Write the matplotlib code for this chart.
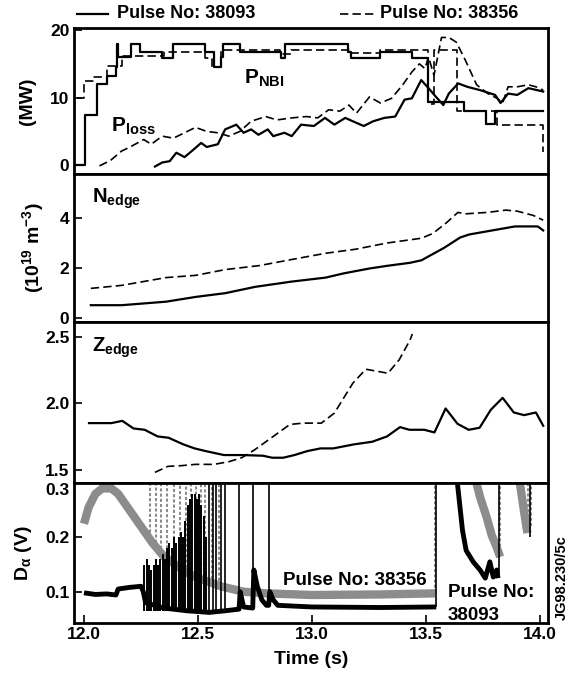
import matplotlib
matplotlib.use("Agg")
import matplotlib.pyplot as plt
from matplotlib.lines import Line2D

FONT = ['Liberation Sans', 'DejaVu Sans']
plt.rcParams['font.family'] = FONT
plt.rcParams['font.weight'] = 'bold'
plt.rcParams['axes.labelweight'] = 'bold'
plt.rcParams['mathtext.fontset'] = 'custom'
plt.rcParams['mathtext.rm'] = 'Liberation Sans:bold'
plt.rcParams['mathtext.it'] = 'Liberation Sans:bold'
plt.rcParams['mathtext.bf'] = 'Liberation Sans:bold'
plt.rcParams['mathtext.default'] = 'bf'
plt.rcParams['axes.unicode_minus'] = True

# ---- P_NBI (stepped) ----
nbi_a_t = [11.954, 12.006, 12.055, 12.10, 12.14, 12.146, 12.150, 12.152, 12.205, 12.246, 12.343,
           12.392, 12.53, 12.57, 12.603, 12.611, 12.684, 12.862, 12.88, 13.16, 13.171, 13.30,
           13.44, 13.508, 13.665, 13.763, 13.803, 14.014]
nbi_a_v = [0, 7.5, 12, 13.2, 14.5, 18, 16, 16, 18, 16.8, 15.8,
           18, 16.8, 14.5, 16, 18, 16.8, 15.8, 18, 16.8, 15.8, 16.8,
           15.8, 9.4, 8, 6.1, 8, 8]
nbi_b_t = [11.97, 12.0, 12.04, 12.10, 12.165, 12.35, 12.53, 12.56, 12.60, 12.86, 12.91,
           13.17, 13.30, 13.51, 13.535, 13.635, 13.81, 14.01, 14.014]
nbi_b_v = [10, 12.5, 13, 14.7, 16.2, 16.8, 15.8, 14.6, 17, 16.5, 17,
           16.6, 17, 9, 17, 8, 6, 6, 2]

# ---- P_loss ----
loss_a_t = [12.311, 12.343, 12.376, 12.405, 12.441, 12.473, 12.514, 12.538, 12.587, 12.619,
            12.668, 12.700, 12.733, 12.765, 12.806, 12.830, 12.879, 12.911, 12.952, 13.008,
            13.057, 13.098, 13.146, 13.179, 13.227, 13.268, 13.317, 13.365, 13.406, 13.438,
            13.479, 13.511, 13.544, 13.576, 13.600, 13.641, 13.681, 13.738, 13.803, 13.827,
            13.860, 13.900, 13.949, 14.014]
loss_a_v = [-0.2, 0.4, 0.6, 1.85, 1.2, 2.1, 3.3, 2.7, 3.1, 5.3,
            6.0, 4.8, 5.3, 4.5, 5.3, 4.3, 4.8, 4.3, 6.0, 5.8,
            7.0, 6.0, 7.0, 6.5, 5.8, 6.5, 7.0, 7.2, 9.7, 9.9,
            12.6, 11.4, 10.1, 8.9, 10.6, 12.1, 11.6, 11.1, 10.4, 9.2,
            10.6, 10.4, 11.4, 10.9]
loss_b_t = [12.068, 12.116, 12.165, 12.197, 12.262, 12.295, 12.343, 12.392, 12.441, 12.489,
            12.538, 12.587, 12.635, 12.684, 12.733, 12.797, 12.846, 12.911, 12.976, 13.025,
            13.073, 13.122, 13.162, 13.195, 13.252, 13.300, 13.349, 13.398, 13.438, 13.471,
            13.495, 13.511, 13.535, 13.568, 13.600, 13.633, 13.673, 13.722, 13.771, 13.811,
            13.836, 13.860, 13.900, 13.949, 13.982, 14.014]
loss_b_v = [-0.1, 0.7, 2.1, 2.6, 3.8, 3.1, 4.3, 4.0, 4.8, 5.6,
            5.0, 4.8, 4.3, 5.0, 6.5, 7.2, 6.7, 7.0, 7.2, 7.0,
            8.2, 8.0, 8.9, 7.7, 10.1, 9.2, 9.9, 11.9, 13.8, 15.0,
            14.3, 16.0, 13.3, 18.9, 18.9, 18.2, 15.5, 11.9, 10.6, 9.9,
            9.2, 11.6, 11.6, 11.9, 11.6, 11.1]

# ---- N_edge ----
ne_a_t = [12.03, 12.165, 12.36, 12.49, 12.62, 12.75, 12.91, 13.06, 13.14, 13.25, 13.33,
          13.43, 13.48, 13.58, 13.65, 13.69, 13.79, 13.89, 13.99, 14.014]
ne_a_v = [0.52, 0.52, 0.66, 0.85, 1.0, 1.25, 1.46, 1.62, 1.79, 1.98, 2.09,
          2.21, 2.31, 2.81, 3.22, 3.34, 3.5, 3.66, 3.66, 3.5]
ne_b_t = [12.03, 12.165, 12.36, 12.49, 12.62, 12.77, 12.91, 13.06, 13.19, 13.33, 13.48,
          13.53, 13.59, 13.64, 13.67, 13.77, 13.85, 13.90, 13.97, 14.014]
ne_b_v = [1.19, 1.31, 1.62, 1.71, 1.94, 2.1, 2.34, 2.59, 2.75, 3.0, 3.19,
          3.38, 3.81, 4.22, 4.16, 4.22, 4.31, 4.27, 4.1, 3.91]

# ---- Z_edge ----
ze_a_t = [12.022, 12.120, 12.168, 12.217, 12.266, 12.323, 12.371, 12.436, 12.485, 12.533,
          12.614, 12.695, 12.785, 12.825, 12.874, 12.923, 12.980, 13.037, 13.093, 13.183,
          13.264, 13.329, 13.386, 13.427, 13.492, 13.537, 13.586, 13.638, 13.687, 13.735,
          13.784, 13.836, 13.885, 13.930, 13.982, 14.014]
ze_a_v = [1.85, 1.85, 1.867, 1.81, 1.80, 1.75, 1.74, 1.69, 1.66, 1.64,
          1.61, 1.61, 1.605, 1.59, 1.59, 1.61, 1.64, 1.66, 1.66, 1.69,
          1.71, 1.75, 1.82, 1.80, 1.80, 1.78, 1.96, 1.845, 1.80, 1.815,
          1.95, 2.04, 1.93, 1.91, 1.93, 1.83]
ze_b_t = [12.311, 12.368, 12.425, 12.489, 12.570, 12.635, 12.692, 12.749, 12.830, 12.903,
          12.960, 13.041, 13.098, 13.179, 13.236, 13.333, 13.382, 13.430, 13.44]
ze_b_v = [1.48, 1.525, 1.53, 1.54, 1.54, 1.56, 1.59, 1.65, 1.75, 1.84,
          1.85, 1.85, 1.925, 2.15, 2.255, 2.225, 2.325, 2.475, 2.52]

# ---- D_alpha, pulse 38356 (grey) ----
da_b_t1 = [12.00, 12.02, 12.05, 12.08, 12.12, 12.15, 12.20, 12.25, 12.30, 12.35, 12.40,
           12.45, 12.50, 12.55, 12.60, 12.65, 12.70, 12.80, 13.00, 13.30, 13.54]
da_b_v1 = [0.225, 0.255, 0.28, 0.29, 0.29, 0.28, 0.25, 0.22, 0.19, 0.165, 0.15,
           0.135, 0.125, 0.118, 0.11, 0.105, 0.10, 0.097, 0.094, 0.095, 0.097]
da_b_t2 = [13.715, 13.737, 13.766, 13.788, 13.81, 13.825]
da_b_v2 = [0.31, 0.274, 0.237, 0.204, 0.182, 0.164]
da_b_t3 = [13.908, 13.927, 13.94, 13.945]
da_b_v3 = [0.31, 0.256, 0.22, 0.208]
elm_b_t = [12.29, 12.316, 12.338, 12.364, 12.395, 12.42, 12.447, 12.469, 12.49, 12.513,
           12.53, 12.56, 12.59, 13.54, 13.826, 13.946, 13.96]
elm_b_lo = [0.19, 0.18, 0.17, 0.16, 0.15, 0.145, 0.135, 0.13, 0.125, 0.12,
            0.12, 0.115, 0.11, 0.097, 0.164, 0.208, 0.22]

# ---- D_alpha, pulse 38093 (black) ----
da_a_t1 = [12.00, 12.05, 12.10, 12.14, 12.15, 12.20, 12.25, 12.26, 12.27, 12.35, 12.45,
           12.55, 12.62, 12.68, 12.685, 12.70, 12.74, 12.745, 12.76, 12.78, 12.80,
           12.81, 12.815, 12.83, 12.85, 13.00, 13.30, 13.545]
da_a_v1 = [0.098, 0.095, 0.096, 0.094, 0.105, 0.108, 0.11, 0.10, 0.08, 0.07, 0.065,
           0.062, 0.065, 0.068, 0.10, 0.072, 0.07, 0.14, 0.11, 0.085, 0.075,
           0.075, 0.10, 0.085, 0.075, 0.072, 0.071, 0.072]
da_a_t2 = [13.635, 13.66, 13.676, 13.707, 13.737, 13.76, 13.78, 13.795, 13.81, 13.816]
da_a_v2 = [0.31, 0.213, 0.176, 0.155, 0.14, 0.125, 0.155, 0.127, 0.14, 0.125]
elm_a_t = [12.265, 12.275, 12.285, 12.295, 12.305, 12.315, 12.325, 12.335, 12.345, 12.355,
           12.365, 12.375, 12.385, 12.395, 12.405, 12.415, 12.425, 12.435, 12.445, 12.455,
           12.465, 12.475, 12.485, 12.495, 12.505, 12.515, 12.525, 12.535]
elm_a_hi = [0.15, 0.16, 0.15, 0.14, 0.15, 0.16, 0.15, 0.16, 0.17, 0.16,
            0.18, 0.19, 0.18, 0.2, 0.19, 0.2, 0.21, 0.2, 0.23, 0.26,
            0.27, 0.28, 0.28, 0.27, 0.28, 0.26, 0.24, 0.2]
elm_a_top = [12.55, 12.565, 12.58, 12.60, 12.62, 12.68, 12.74, 12.81, 13.545, 13.82, 13.955]
elm_a_lo = [0.062, 0.063, 0.064, 0.064, 0.065, 0.068, 0.07, 0.075, 0.072, 0.125, 0.20]

XLIM = (11.954, 14.035)
W, H = 576, 673
fig = plt.figure(figsize=(W / 100, H / 100), dpi=100)

def panel(top, bottom):
    ax = fig.add_axes([73.5 / W, 1 - bottom / H, (548 - 73.5) / W, (bottom - top) / H])
    ax.set_xlim(*XLIM)
    for s in ax.spines.values():
        s.set_linewidth(2.0)
    ax.tick_params(direction='in', length=6, width=1.2, labelsize=12.5, pad=3)
    ax.tick_params(axis='x', which='both', bottom=False, labelbottom=False)
    return ax

dash = dict(color='black', lw=1.2, linestyle=(0, (5, 2.5)))
solid = dict(color='black', lw=1.6)

# top: heating and loss power
ax1 = panel(28, 174)
ax1.step(nbi_a_t, nbi_a_v, where='post', **solid)
ax1.step(nbi_b_t, nbi_b_v, where='post', **dash)
ax1.plot(loss_a_t, loss_a_v, **solid)
ax1.plot(loss_b_t, loss_b_v, **dash)
ax1.set_ylim(-1.3, 20.3)
ax1.set_yticks([0, 10, 20])
ax1.set_ylabel('(MW)', fontsize=14, labelpad=10)
ax1.text(12.70, 12.8, 'P$_{\\mathbf{NBI}}$', fontsize=15, va='center')
ax1.text(12.12, 5.8, 'P$_{\\mathbf{loss}}$', fontsize=15, va='center')

# edge density
ax2 = panel(174, 322)
ax2.plot(ne_a_t, ne_a_v, **solid)
ax2.plot(ne_b_t, ne_b_v, **dash)
ax2.set_ylim(-0.15, 5.75)
ax2.set_yticks([0, 2, 4])
ax2.set_ylabel('(10$^{\\mathbf{19}}$ m$^{\\mathbf{-3}}$)', fontsize=14, labelpad=10)
ax2.text(12.035, 4.75, 'N$_{\\mathbf{edge}}$', fontsize=14.5, va='center')

# edge Z_eff
ax3 = panel(322, 483)
ax3.plot(ze_a_t, ze_a_v, **solid)
ax3.plot(ze_b_t, ze_b_v, **dash)
ax3.set_ylim(1.40, 2.61)
ax3.set_yticks([1.5, 2.0, 2.5])
ax3.set_yticklabels(['1.5', '2.0', '2.5'])
ax3.text(12.035, 2.42, 'Z$_{\\mathbf{edge}}$', fontsize=14.5, va='center')

# D-alpha
ax4 = panel(483, 623)
grey = '0.55'
for tt, vv in [(da_b_t1, da_b_v1), (da_b_t2, da_b_v2), (da_b_t3, da_b_v3)]:
    ax4.plot(tt, vv, color=grey, lw=6, solid_capstyle='butt')
ax4.vlines(elm_b_t, elm_b_lo, 0.31, color=grey, lw=1.5, linestyles=(0, (1.5, 1)))
ax4.vlines(elm_a_t, 0.065, elm_a_hi, color='black', lw=1.4)
ax4.vlines(elm_a_top, elm_a_lo, 0.31, color='black', lw=1.2)
ax4.plot(da_a_t1, da_a_v1, color='black', lw=3.5, solid_capstyle='butt')
ax4.plot(da_a_t2, da_a_v2, color='black', lw=3.5, solid_capstyle='butt')
ax4.set_ylim(0.0425, 0.3)
ax4.set_yticks([0.1, 0.2, 0.3])
ax4.set_yticklabels(['0.1', '0.2', '0.3'])
ax4.get_yticklabels()[-1].set_va('top')
ax4.set_xticks([12.0, 12.5, 13.0, 13.5, 14.0])
ax4.tick_params(axis='x', bottom=True, labelbottom=True, direction='in', length=6, labelsize=12.5)
ax4.set_xticklabels(['12.0', '12.5', '13.0', '13.5', '14.0'])
ax4.set_xlabel('Time (s)', fontsize=14, labelpad=6)
ax4.set_ylabel('D$_{\\alpha}$ (V)', fontsize=14, labelpad=8)
ax4.text(12.873, 0.121, 'Pulse No: 38356', fontsize=13.5, va='center')
ax4.text(13.596, 0.099, 'Pulse No:', fontsize=13.5, va='center')
ax4.text(13.596, 0.057, '38093', fontsize=13.5, va='center')

# header key
fig.add_artist(Line2D([77 / W, 108 / W], [1 - 14 / H, 1 - 14 / H], color='black', lw=1.6))
fig.text(117 / W, 1 - 14 / H, 'Pulse No: 38093', fontsize=13, va='center')
fig.add_artist(Line2D([340 / W, 377 / W], [1 - 14 / H, 1 - 14 / H], **dash))
fig.text(380 / W, 1 - 14 / H, 'Pulse No: 38356', fontsize=13, va='center')

fig.text(562 / W, 1 - 578 / H, 'JG98.230/5c', fontsize=10.5, rotation=90, ha='center', va='center')

fig.savefig('out.png', dpi=100)
